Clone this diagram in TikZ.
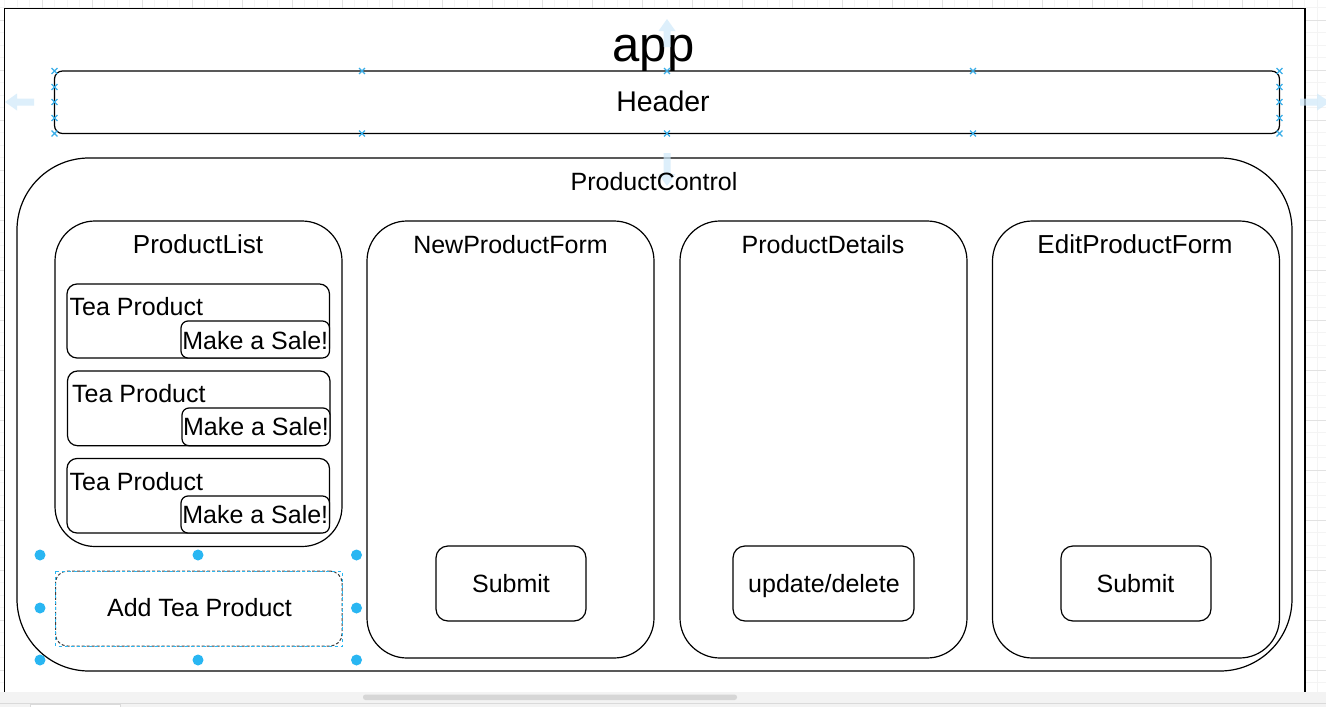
\documentclass[tikz,border=0pt]{standalone}
\usepackage{fontspec}
\setmainfont{Liberation Sans}
\usetikzlibrary{shapes.misc}

\definecolor{gridminor}{HTML}{F4F4F4}
\definecolor{gridmajor}{HTML}{E2E2E2}
\definecolor{handleblue}{HTML}{29B6F2}
\definecolor{hintblue}{HTML}{CFE9FA}
\definecolor{markerblue}{HTML}{3AAEE8}
\definecolor{uistrip}{HTML}{F3F3F3}
\definecolor{uiline}{HTML}{DADADA}
\definecolor{scrollgray}{HTML}{D6D6D6}

\tikzset{
  box/.style={draw=black, line width=1.2pt, fill=white, rectangle,
    inner sep=0pt, outer sep=0pt},
  txt/.style={font=\fontsize{25}{29}\selectfont, inner sep=0pt, anchor=base},
  bigtxt/.style={font=\fontsize{26}{30}\selectfont, inner sep=0pt, anchor=base},
  hint/.style={fill=hintblue, draw=none, opacity=0.7},
  handle/.style={circle, fill=handleblue, draw=none, minimum size=11pt,
    inner sep=0pt},
  xmarker/.style={cross out, draw=markerblue, line width=1.3pt,
    minimum size=4.5pt, inner sep=0pt},
}

\begin{document}
\begin{tikzpicture}[x=1pt, y=-1pt]
\useasboundingbox (0,0) rectangle (1326,707);

% canvas grid
\fill[white] (0,0) rectangle (1326,707);
\foreach \k in {0,...,106} \draw[gridminor, line width=0.8pt] (4.5+12.5*\k,0) -- (4.5+12.5*\k,692);
\foreach \k in {0,...,55} \draw[gridminor, line width=0.8pt] (0,7.5+12.5*\k) -- (1326,7.5+12.5*\k);
\foreach \k in {0,...,26} \draw[gridmajor, line width=0.8pt] (42+50*\k,0) -- (42+50*\k,692);
\foreach \k in {0,...,14} \draw[gridmajor, line width=0.8pt] (0,20+50*\k) -- (1326,20+50*\k);

% page
\fill[white] (4.5,8.5) rectangle (1305,692);
\draw[black, line width=1.5pt] (4.5,692) -- (4.5,8.5) -- (1305,8.5) -- (1305,692);

% title
\node[txt, font=\fontsize{49}{55}\selectfont] (app) at (653.5,61.5) {app};

% header
\node[box, rounded corners=8pt, minimum width=1225pt, minimum height=62.5pt]
  (header) at (667,102.25) {};
\node[txt, font=\fontsize{28.5}{32}\selectfont] (headertxt) at (663,111) {Header};

% product control
\node[box, rounded corners=72pt, minimum width=1275pt, minimum height=513pt]
  (control) at (654.5,414.5) {};

% columns
\node[box, rounded corners=40pt, minimum width=287pt, minimum height=325.5pt]
  (list) at (198.5,383.75) {};
\node[box, rounded corners=40pt, minimum width=287pt, minimum height=437pt]
  (newform) at (510.5,439.5) {};
\node[box, rounded corners=40pt, minimum width=287pt, minimum height=437pt]
  (details) at (823.5,439.5) {};
\node[box, rounded corners=40pt, minimum width=287pt, minimum height=437pt]
  (editform) at (1136,439.5) {};

% tea product cards
\node[box, rounded corners=10pt, minimum width=262.5pt, minimum height=74pt]
  (card1) at (198.25,321) {};
\node[box, rounded corners=10pt, minimum width=262.5pt, minimum height=74.7pt]
  (card2) at (198.75,408.35) {};
\node[box, rounded corners=10pt, minimum width=262.5pt, minimum height=74.5pt]
  (card3) at (198.25,495.75) {};
\node[box, rounded corners=7pt, minimum width=148.5pt, minimum height=37pt]
  (sale1) at (255.25,339.5) {};
\node[box, rounded corners=7pt, minimum width=148pt, minimum height=37.7pt]
  (sale2) at (256,426.85) {};
\node[box, rounded corners=7pt, minimum width=148.5pt, minimum height=37pt]
  (sale3) at (255.25,514.5) {};

% buttons
\node[box, rounded corners=12pt, minimum width=150pt, minimum height=75pt]
  (submitnew) at (511,583.5) {};
\node[box, rounded corners=12pt, minimum width=181pt, minimum height=75pt]
  (upddel) at (823.5,583.5) {};
\node[box, rounded corners=12pt, minimum width=150pt, minimum height=75pt]
  (submitedit) at (1136,583.5) {};

% selected button
\node[box, draw=black!75, dash pattern=on 3pt off 2pt, line width=1pt,
  rounded corners=12pt, minimum width=286.5pt, minimum height=75pt]
  (addtea) at (198.75,608.5) {};
\draw[handleblue, dash pattern=on 3pt off 3pt, line width=0.8pt]
  (addtea.north west) rectangle (addtea.south east);
\foreach \hx/\hy [count=\i] in {40/555, 198/555, 356.5/555, 40/608, 356.5/608,
    40/660, 198/660, 356.5/660}
  \node[handle] (h\i) at (\hx,\hy) {};

% header connection markers
\foreach \mx [count=\i] in {54.5, 362, 667, 973, 1279.5} {
  \node[xmarker] (mt\i) at (\mx,71) {};
  \node[xmarker] (mb\i) at (\mx,133.5) {};
}
\foreach \my [count=\i] in {87, 102, 118} {
  \node[xmarker] (ml\i) at (54.5,\my) {};
  \node[xmarker] (mr\i) at (1279.5,\my) {};
}

% hover arrows around the header
\fill[hint] (5,102) -- (17,93.5) -- (17,98.5) -- (34,98.5) -- (34,105.5)
  -- (17,105.5) -- (17,110.5) -- cycle;
\fill[hint] (1330,102) -- (1317,93.5) -- (1317,98.5) -- (1300,98.5)
  -- (1300,105.5) -- (1317,105.5) -- (1317,110.5) -- cycle;
\fill[hint] (667,19) -- (675.5,31) -- (670.5,31) -- (670.5,47) -- (663.5,47)
  -- (663.5,31) -- (658.5,31) -- cycle;
\fill[hint] (667,186) -- (675.5,174) -- (670.5,174) -- (670.5,153)
  -- (663.5,153) -- (663.5,174) -- (658.5,174) -- cycle;

% labels
\node[txt] (controltxt) at (654,190.7) {ProductControl};
\node[bigtxt] (listtxt) at (198,253) {ProductList};
\node[txt] (newformtxt) at (510.5,253) {NewProductForm};
\node[txt] (detailstxt) at (823,253) {ProductDetails};
\node[bigtxt] (editformtxt) at (1135,253) {EditProductForm};
\node[txt, anchor=base west] (card1txt) at (69.5,315.7) {Tea Product};
\node[txt, anchor=base west] (card2txt) at (72,402.7) {Tea Product};
\node[txt, anchor=base west] (card3txt) at (69.5,490.7) {Tea Product};
\node[txt] (sale1txt) at (255.25,349) {Make a Sale!};
\node[txt] (sale2txt) at (256,435.7) {Make a Sale!};
\node[txt] (sale3txt) at (255.25,523.3) {Make a Sale!};
\node[txt] (addteatxt) at (199.5,616) {Add Tea Product};
\node[txt] (submitnewtxt) at (511,592.7) {Submit};
\node[txt] (upddeltxt) at (824,592.7) {update/delete};
\node[txt] (submitedittxt) at (1135.5,592.7) {Submit};

% editor strip with scroll bar
\fill[uistrip] (0,692) rectangle (1326,707);
\draw[uiline, line width=0.8pt] (0,703.5) -- (1326,703.5);
\fill[white] (30,704) rectangle (120,707);
\draw[uiline, line width=0.8pt] (30,707) -- (30,704) -- (120,704) -- (120,707);
\fill[scrollgray, rounded corners=2.5pt] (363,694.5) rectangle (737,700);
\end{tikzpicture}
\end{document}
